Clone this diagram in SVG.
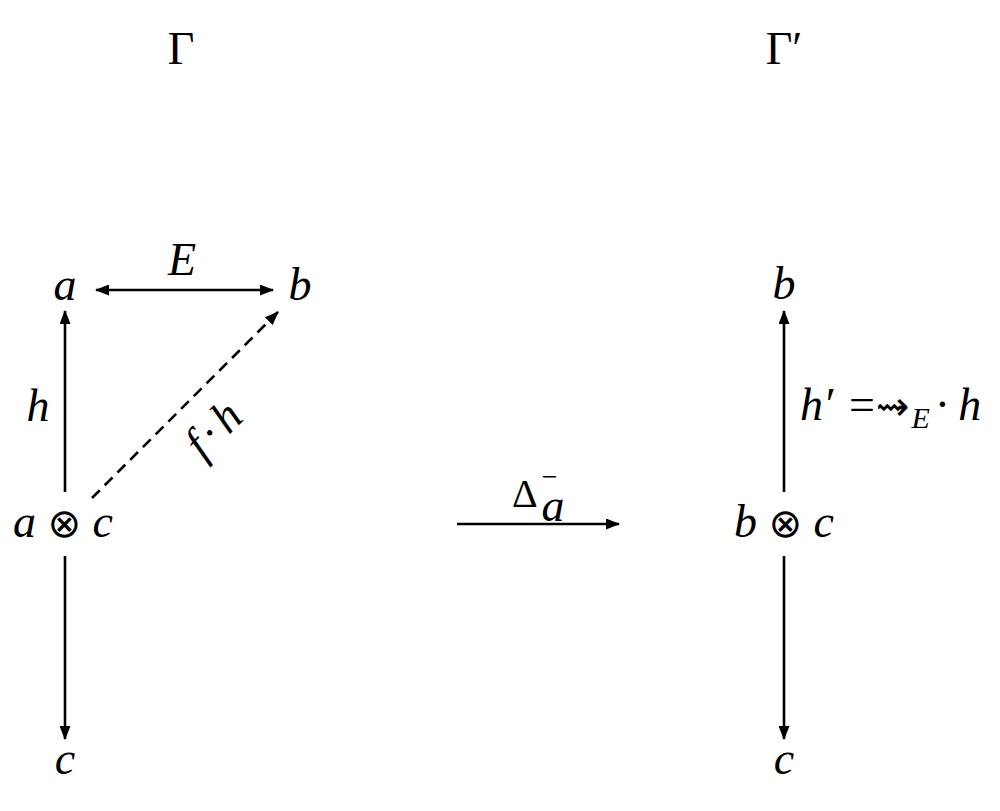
<svg xmlns="http://www.w3.org/2000/svg" width="1000" height="811" viewBox="0 0 1000 811">
<style>
text{font-family:"Liberation Serif","DejaVu Serif",serif;fill:#000}
.m{font-style:italic;font-size:46px}
.r{font-style:normal}
.o{font-style:normal;font-family:"DejaVu Sans",sans-serif;font-size:40px}
.big{font-size:46px}
.e{stroke:#000;stroke-width:2.6;fill:none}
.d{stroke-dasharray:11 7}
</style>
<defs>
<marker id="ah" viewBox="0 0 14 11" refX="13" refY="5.5" markerWidth="14" markerHeight="11" markerUnits="userSpaceOnUse" orient="auto-start-reverse">
<path d="M0,0 L14,5.5 L0,11 Z" fill="#000"/>
</marker>
</defs>
<rect width="1000" height="811" fill="#fff"/>
<g id="title-left"><text class="big" x="181" y="64" text-anchor="middle">Γ</text></g>
<g id="title-right"><text class="big" x="784" y="64" text-anchor="middle">Γ′</text></g>
<g id="node-a"><text class="m" x="65" y="300" text-anchor="middle">a</text></g>
<g id="node-b-left"><text class="m" x="300" y="300" text-anchor="middle">b</text></g>
<g id="node-axc"><text class="m" x="63" y="537" text-anchor="middle">a <tspan class="o">⊗</tspan> c</text></g>
<g id="node-c-left"><text class="m" x="65" y="774" text-anchor="middle">c</text></g>
<g id="node-b-right"><text class="m" x="784" y="299" text-anchor="middle">b</text></g>
<g id="node-bxc"><text class="m" x="784" y="537" text-anchor="middle">b <tspan class="o">⊗</tspan> c</text></g>
<g id="node-c-right"><text class="m" x="784" y="774" text-anchor="middle">c</text></g>
<g id="connectors">
<line class="e" x1="96" y1="290" x2="273" y2="290" marker-start="url(#ah)" marker-end="url(#ah)"/>
<line class="e" x1="65" y1="492" x2="65" y2="311" marker-end="url(#ah)"/>
<line class="e d" x1="92" y1="498" x2="278" y2="312" marker-end="url(#ah)"/>
<line class="e" x1="65" y1="556" x2="65" y2="739" marker-end="url(#ah)"/>
<line class="e" x1="457" y1="524" x2="619" y2="524" marker-end="url(#ah)"/>
<line class="e" x1="784" y1="492" x2="784" y2="311" marker-end="url(#ah)"/>
<line class="e" x1="784" y1="556" x2="784" y2="739" marker-end="url(#ah)"/>
</g>
<g id="labels">
<text class="m" x="182" y="275" text-anchor="middle">E</text>
<text class="m" x="38" y="421" text-anchor="middle">h</text>
<text class="m" transform="translate(224,440) rotate(-45)" text-anchor="middle">f<tspan class="r" dx="4">·</tspan><tspan dx="4">h</tspan></text>
<text class="r" x="512" y="507" font-size="40">Δ<tspan font-size="28" dx="4" dy="-21">−</tspan><tspan class="m" font-size="30" dx="-16" dy="35">a</tspan></text>
<text class="m" x="800" y="420">h′<tspan class="r" dx="16">=</tspan><tspan class="r" font-family="DejaVu Sans,sans-serif" font-size="40" dx="1">⇝</tspan><tspan font-size="30" dy="8" dx="2">E</tspan><tspan class="r" dy="-8" dx="5">·</tspan><tspan dx="8">h</tspan></text>
</g>
</svg>
